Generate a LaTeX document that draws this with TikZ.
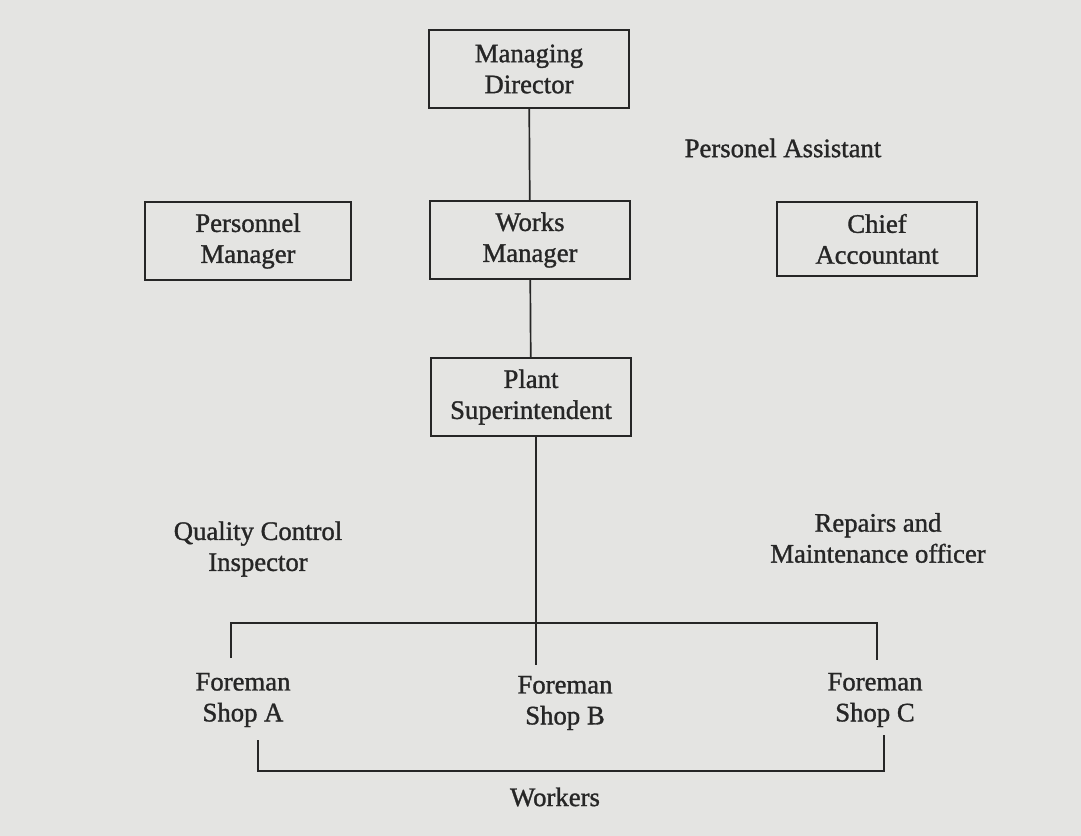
\documentclass[tikz,border=0pt]{standalone}
\usepackage{fontspec}
\setmainfont{Liberation Serif}[BoldFont=Liberation Serif, BoldFeatures={FakeBold=1.2}]
\usetikzlibrary{positioning}
\definecolor{paper}{RGB}{228,228,226}
\definecolor{ink}{RGB}{38,38,38}

\begin{document}
\begin{tikzpicture}[x=0.025cm, y=-0.025cm,
    post/.style={rectangle, draw=ink, line width=1.2pt, text=ink, align=center, minimum width=5cm, minimum height=1.95cm, font=\fontsize{19}{22}\selectfont\bfseries},
    staff/.style={text=ink, align=center, font=\fontsize{19}{22}\selectfont\bfseries},
    link/.style={draw=ink, line width=1.2pt}]
  \fill[paper] (0,0) rectangle (1081,836);
  \useasboundingbox (0,0) rectangle (1081,836);
  % line posts
  \node[post] (MD) at (529,69) {Managing\\Director};
  \node[post, minimum width=5.15cm] (PM) at (248,241) {Personnel\\Manager};
  \node[post] (WM) at (530,240) {Works\\Manager};
  \node[post, minimum height=1.85cm] (CA) at (877,239) {Chief\\Accountant};
  \node[post] (PS) at (531,397) {Plant\\Superintendent};
  % staff labels
  \node[staff] (PA) at (783,148) {Personel Assistant};
  \node[staff] (QC) at (258,549) {Quality Control\\Inspector};
  \node[staff] (RM) at (878,538) {Repairs and\\Maintenance officer};
  % foremen
  \node[staff] (FA) at (243,700) {Foreman\\Shop A};
  \node[staff] (FB) at (565,703) {Foreman\\Shop B};
  \node[staff] (FC) at (875,700) {Foreman\\Shop C};
  \node[staff] (WK) at (555,797) {Workers};
  % bar and free ends
  \coordinate (mid) at (536,623);
  \coordinate (barA) at (231,623);
  \coordinate (barC) at (877,623);
  \coordinate (endA) at (231,658);
  \coordinate (endB) at (536,665);
  \coordinate (endC) at (877,660);
  \coordinate (wkA) at (258,740);
  \coordinate (wkC) at (884,735);
  \draw[link] (MD) -- (WM);
  \draw[link] (WM) -- (PS);
  \draw[link] (PS.south -| endB) -- (endB);
  \draw[link] (endA) -- (barA) -- (barC) -- (endC);
  \draw[link] (wkA) |- (0,771 -| wkC) -- (wkC);
\end{tikzpicture}
\end{document}
